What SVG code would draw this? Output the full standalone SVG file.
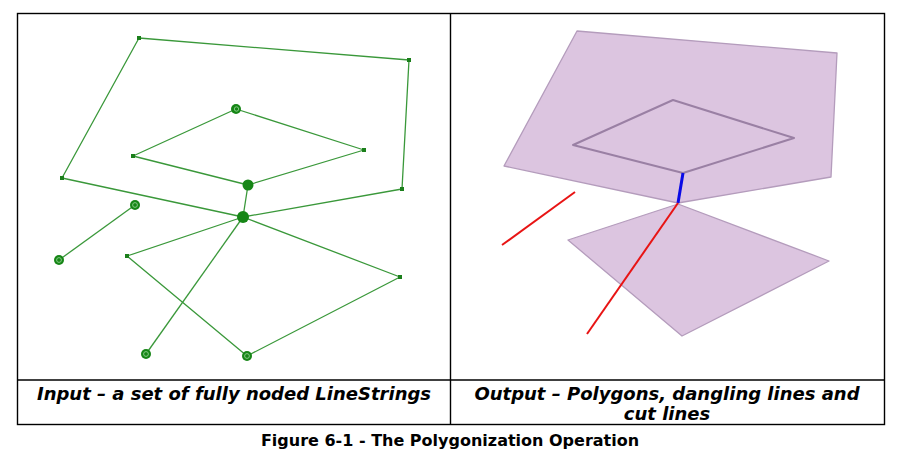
<svg xmlns="http://www.w3.org/2000/svg" width="900" height="468" viewBox="0 0 900 468">
<style>
.frame{fill:none;stroke:#000;stroke-width:1.4}
.ln{fill:none;stroke:#3a983a;stroke-width:1.3;stroke-linejoin:round}
.sq{fill:#1b7f1b}
.nd{fill:#168616}
.ring{fill:none;stroke:#8fd08f;stroke-width:0.9}
.poly{fill:#dcc5e0;stroke:#b49cbc;stroke-width:1.3;stroke-linejoin:round}
.hole{fill:none;stroke:#9a80a4;stroke-width:2;stroke-linejoin:round}
.cap{font-family:"DejaVu Sans",Verdana,sans-serif;font-weight:bold;font-style:italic;font-size:18px;fill:#000;text-anchor:middle}
.fig{font-family:"DejaVu Sans",Verdana,sans-serif;font-weight:bold;font-size:16px;fill:#000;text-anchor:middle}
</style>
<rect width="900" height="468" fill="#fff"/>
<g id="table">
<rect class="frame" x="17.5" y="13.5" width="867" height="411"/>
<line class="frame" x1="450.5" y1="13.5" x2="450.5" y2="424.5"/>
<line class="frame" x1="17.5" y1="380" x2="884.5" y2="380"/>
</g>
<g id="connectors">
<polyline class="ln" points="243,217 62,178 139,38 409,60 402,189 243,217"/>
<polygon class="ln" points="236,109 364,150 248,185 133,156"/>
<line class="ln" x1="248" y1="185" x2="243" y2="217"/>
<line class="ln" x1="135" y1="205" x2="59" y2="260"/>
<polyline class="ln" points="243,217 127,256 247,356 400,277 243,217"/>
<line class="ln" x1="243" y1="217" x2="146" y2="354"/>
</g>
<g id="vertices">
<rect class="sq" x="137" y="36" width="4" height="4"/>
<rect class="sq" x="407" y="58" width="4" height="4"/>
<rect class="sq" x="400" y="187" width="4" height="4"/>
<rect class="sq" x="60" y="176" width="4" height="4"/>
<rect class="sq" x="131" y="154" width="4" height="4"/>
<rect class="sq" x="362" y="148" width="4" height="4"/>
<rect class="sq" x="125" y="254" width="4" height="4"/>
<rect class="sq" x="398" y="275" width="4" height="4"/>
</g>
<g id="nodes">
<g id="n-top"><circle class="nd" cx="236" cy="109" r="5"/><circle class="ring" cx="236.5" cy="109" r="2.2"/></g>
<g id="n-bottom"><circle class="nd" cx="248" cy="185" r="5.5"/></g>
<g id="n-hub"><circle class="nd" cx="243" cy="217" r="6"/></g>
<g id="n-dang1"><circle class="nd" cx="135" cy="205" r="5"/><circle class="ring" cx="135" cy="205" r="2.4"/></g>
<g id="n-dang2"><circle class="nd" cx="59" cy="260" r="5"/><circle class="ring" cx="59" cy="260" r="2.4"/></g>
<g id="n-cut"><circle class="nd" cx="146" cy="354" r="5"/><circle class="ring" cx="146" cy="354" r="2.4"/></g>
<g id="n-low"><circle class="nd" cx="247" cy="356" r="5"/><circle class="ring" cx="247" cy="356" r="2.4"/></g>
</g>
<g id="output">
<polygon class="poly" points="577,31 837,53 831,177 678,203 504,166"/>
<polygon class="hole" points="673,100 794,138 683,173 573,145"/>
<polygon class="poly" points="678,204 829,261 682,336 568,240"/>
<line x1="683" y1="173" x2="678" y2="203" stroke="#0a0ae6" stroke-width="3"/>
<line x1="575" y1="192" x2="502" y2="245" stroke="#e81414" stroke-width="2"/>
<line x1="678" y1="203" x2="587" y2="334" stroke="#e81414" stroke-width="2"/>
</g>
<g id="captions">
<text class="cap" x="234" y="400">Input – a set of fully noded LineStrings</text>
<text class="cap" x="667" y="400">Output – Polygons, dangling lines and</text>
<text class="cap" x="667" y="420">cut lines</text>
<text class="fig" x="450" y="446">Figure 6-1 - The Polygonization Operation</text>
</g>
</svg>
